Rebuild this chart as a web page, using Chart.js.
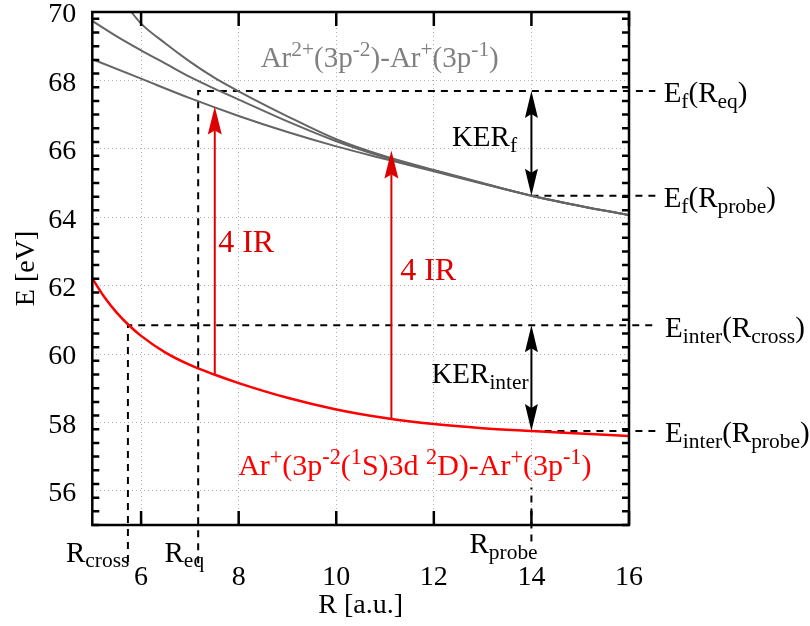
<!DOCTYPE html>
<html>
<head>
<meta charset="utf-8">
<script src="https://cdn.jsdelivr.net/npm/chart.js@4.4.1/dist/chart.umd.min.js"></script>
<style>
  html, body { margin: 0; padding: 0; background: #fff; }
</style>
</head>
<body>
<canvas id="pec" width="810" height="626"></canvas>
<script>
// axis ticks
const xTicks = [6, 8, 10, 12, 14, 16];
const yTicks = [56, 58, 60, 62, 64, 66, 68, 70];

// Ar2+(3p-2)-Ar+(3p-1) final state curves (grey)
const rFinalA = [5.75, 6, 6.5, 7, 7.5, 8, 9, 10, 11, 12, 13, 14, 15, 16];
const eFinalA = [70.09, 69.66, 69.08, 68.55, 68.08, 67.68, 66.95, 66.28, 65.78, 65.38, 65.0, 64.63, 64.33, 64.06];
const rFinalB = [5, 5.5, 6, 6.5, 7, 7.5, 8, 9, 10, 11, 12, 13, 14, 15, 16];
const eFinalB = [69.74, 69.29, 68.88, 68.49, 68.10, 67.76, 67.44, 66.80, 66.22, 65.75, 65.37, 64.99, 64.63, 64.33, 64.06];
const rFinalC = [5, 6, 7, 8, 9, 10, 11, 12, 13, 14, 15, 16];
const eFinalC = [68.62, 68.05, 67.48, 66.96, 66.49, 66.07, 65.70, 65.34, 64.98, 64.63, 64.33, 64.06];

// Ar+(3p-2(1S)3d 2D)-Ar+(3p-1) intermediate curve (red)
const rInter = [5, 5.25, 5.5, 5.75, 6, 6.5, 7, 7.5, 8, 9, 10, 11, 12, 13, 14, 15, 16];
const eInter = [62.21, 61.66, 61.21, 60.84, 60.53, 60.04, 59.68, 59.40, 59.15, 58.72, 58.38, 58.13, 57.95, 57.83, 57.75, 57.675, 57.60];

// marked distances / energies
const rCross = 5.73, rEq = 7.17, rProbe = 14;
const eFinalEq = 67.69, eFinalProbe = 64.63, eInterCross = 60.84, eInterProbe = 57.75;

// 4 IR photon arrows: [R, from E, to E]
const irArrows = [[7.51, 59.41, 67.24], [11.13, 58.12, 65.95]];
// KER double arrows at R_probe
const kerArrows = [[rProbe, eFinalProbe, eFinalEq], [rProbe, eInterProbe, eInterCross]];

const GREY = '#656565';
const RED = '#ff0000';
const DARKRED = '#dd0000';
const SERIF = '"Liberation Serif", "Times New Roman", serif';

const pts = (xs, ys) => xs.map((v, i) => ({ x: v, y: ys[i] }));

function curve(xs, ys, color, width) {
  return {
    data: pts(xs, ys), showLine: true, borderColor: color, borderWidth: width,
    pointRadius: 0, cubicInterpolationMode: 'monotone', fill: false
  };
}
function dashed(xs, ys) {
  return {
    data: pts(xs, ys), showLine: true, borderColor: '#000', borderWidth: 2,
    borderDash: [7, 6], pointRadius: 0, clip: false, fill: false
  };
}

// text labels: [R, E, color, size, parts]; part = [text, level] (1 sup, -1 sub)
const notes = [
  [8.45, 68.38, '#808080', 29, [['Ar'], ['2+', 1], ['(3p'], ['-2', 1], [')-Ar'], ['+', 1], ['(3p'], ['-1', 1], [')']]],
  [12.37, 66.07, '#000', 29, [['KER'], ['f', -1]]],
  [7.58, 62.97, DARKRED, 32, [['4 IR']]],
  [11.31, 62.16, DARKRED, 32, [['4 IR']]],
  [11.95, 59.14, '#000', 29, [['KER'], ['inter', -1]]],
  [7.99, 56.46, RED, 30, [['Ar'], ['+', 1], ['(3p'], ['-2', 1], ['('], ['1', 1], ['S)3d '], ['2', 1], ['D)-Ar'], ['+', 1], ['(3p'], ['-1', 1], [')']]],
  [16.71, 67.37, '#000', 29, [['E'], ['f', -1], ['(R'], ['eq', -1], [')']]],
  [16.71, 64.30, '#000', 29, [['E'], ['f', -1], ['(R'], ['probe', -1], [')']]],
  [16.74, 60.50, '#000', 29, [['E'], ['inter', -1], ['(R'], ['cross', -1], [')']]],
  [16.74, 57.43, '#000', 29, [['E'], ['inter', -1], ['(R'], ['probe', -1], [')']]],
  [4.46, 53.93, '#000', 29, [['R'], ['cross', -1]]],
  [6.48, 53.93, '#000', 29, [['R'], ['eq', -1]]],
  [12.73, 54.17, '#000', 29, [['R'], ['probe', -1]]],
];

function richText(ctx, parts, x, y, size) {
  let cx = x;
  parts.forEach(([t, lvl]) => {
    const s = lvl ? size * 0.74 : size;
    ctx.font = s + 'px ' + SERIF;
    const dy = lvl === -1 ? size * 0.2 : lvl === 1 ? -size * 0.38 : 0;
    ctx.fillText(t, cx, y + dy);
    cx += ctx.measureText(t).width;
  });
}

function head(ctx, x, yTip, dir, len, hw, notch) {
  // dir -1: points up, +1: points down
  ctx.beginPath();
  ctx.moveTo(x, yTip);
  ctx.lineTo(x - hw, yTip - dir * len);
  ctx.lineTo(x, yTip - dir * (len - notch));
  ctx.lineTo(x + hw, yTip - dir * len);
  ctx.closePath();
  ctx.fill();
}

const overlay = {
  id: 'overlay',
  afterDatasetsDraw(chart) {
    const { ctx, chartArea: a, scales: { x, y } } = chart;
    ctx.save();

    // frame + inward ticks
    ctx.strokeStyle = '#000';
    ctx.lineWidth = 2.5;
    ctx.strokeRect(a.left, a.top, a.right - a.left, a.bottom - a.top);
    ctx.beginPath();
    xTicks.forEach(v => {
      const px = x.getPixelForValue(v);
      ctx.moveTo(px, a.bottom); ctx.lineTo(px, a.bottom - 14);
      ctx.moveTo(px, a.top); ctx.lineTo(px, a.top + 14);
    });
    for (let v = y.min; v <= y.max + 1e-6; v += 0.4) {
      const vv = Math.round(v * 10) / 10;
      const py = y.getPixelForValue(vv);
      const len = yTicks.includes(vv) ? 14 : 7;
      ctx.moveTo(a.left, py); ctx.lineTo(a.left + len, py);
      ctx.moveTo(a.right, py); ctx.lineTo(a.right - len, py);
    }
    ctx.stroke();

    // IR arrows
    ctx.strokeStyle = DARKRED;
    ctx.fillStyle = DARKRED;
    ctx.lineWidth = 2;
    irArrows.forEach(([r, e0, e1]) => {
      const px = x.getPixelForValue(r);
      const p0 = y.getPixelForValue(e0), p1 = y.getPixelForValue(e1);
      ctx.beginPath();
      ctx.moveTo(px, p0); ctx.lineTo(px, p1 + 24);
      ctx.stroke();
      head(ctx, px, p1, -1, 28, 7, 4);
    });

    // KER arrows
    ctx.strokeStyle = '#000';
    ctx.fillStyle = '#000';
    kerArrows.forEach(([r, e0, e1]) => {
      const px = x.getPixelForValue(r);
      const p0 = y.getPixelForValue(e0), p1 = y.getPixelForValue(e1);
      ctx.beginPath();
      ctx.moveTo(px, p0 - 22); ctx.lineTo(px, p1 + 22);
      ctx.stroke();
      head(ctx, px, p1, -1, 27, 6.5, 4);
      head(ctx, px, p0, 1, 27, 6.5, 4);
    });

    // labels
    ctx.textAlign = 'left';
    ctx.textBaseline = 'alphabetic';
    notes.forEach(([r, e, color, size, parts]) => {
      ctx.fillStyle = color;
      richText(ctx, parts, x.getPixelForValue(r), y.getPixelForValue(e), size);
    });
    ctx.restore();
  }
};

Chart.defaults.font.family = SERIF;
Chart.defaults.color = '#000';

function build() {
  new Chart(document.getElementById('pec'), {
    type: 'scatter',
    data: {
      datasets: [
        curve(rFinalA, eFinalA, GREY, 2),
        curve(rFinalB, eFinalB, GREY, 2),
        curve(rFinalC, eFinalC, GREY, 2),
        curve(rInter, eInter, RED, 2.5),
        dashed([rCross, rCross, 16.54], [53.92, eInterCross, eInterCross]),
        dashed([rEq, rEq, 16.54], [53.88, eFinalEq, eFinalEq]),
        dashed([rProbe, 16.54], [eFinalProbe, eFinalProbe]),
        dashed([rProbe, 16.54], [eInterProbe, eInterProbe]),
        dashed([rProbe, rProbe], [54.52, 56.1])
      ]
    },
    options: {
      responsive: false,
      animation: false,
      layout: { padding: { left: 0, right: 181, top: 12, bottom: 0 } },
      plugins: { legend: { display: false }, tooltip: { enabled: false } },
      scales: {
        x: {
          type: 'linear',
          min: 5,
          max: 16,
          afterBuildTicks: s => { s.ticks = xTicks.map(v => ({ value: v })); },
          afterFit: s => { s.height = 101; s.paddingLeft = 0; s.paddingRight = 0; },
          grid: { color: '#b0b0b0', lineWidth: 1, drawTicks: false },
          border: { display: false, dash: [1, 3] },
          ticks: { padding: 36, font: { family: SERIF, size: 28 }, color: '#000' },
          title: { display: true, text: 'R [a.u.]', font: { family: SERIF, size: 28 }, color: '#000', padding: { top: 0, bottom: 4 } }
        },
        y: {
          type: 'linear',
          min: 55,
          max: 70,
          afterBuildTicks: s => { s.ticks = yTicks.map(v => ({ value: v })); },
          afterFit: s => { s.width = 92.3; s.paddingTop = 0; s.paddingBottom = 0; },
          grid: { color: '#b0b0b0', lineWidth: 1, drawTicks: false },
          border: { display: false, dash: [1, 3] },
          ticks: { padding: 16, labelOffset: 3, font: { family: SERIF, size: 28 }, color: '#000' },
          title: { display: true, text: 'E [eV]', font: { family: SERIF, size: 28 }, color: '#000', padding: { top: 10, bottom: 0 } }
        }
      }
    },
    plugins: [overlay]
  });
}

if (document.fonts && document.fonts.load) {
  document.fonts.load('28px "Liberation Serif"').then(build, build);
} else {
  build();
}
</script>
</body>
</html>
